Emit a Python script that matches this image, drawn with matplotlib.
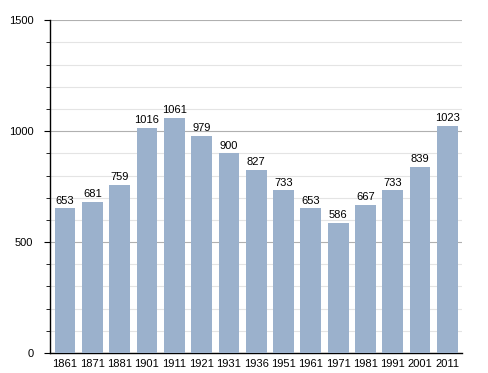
import matplotlib.pyplot as plt
from matplotlib.ticker import MultipleLocator

plt.rcParams['font.family'] = ['Liberation Sans', 'DejaVu Sans']

years = ['1861', '1871', '1881', '1901', '1911', '1921', '1931', '1936',
         '1951', '1961', '1971', '1981', '1991', '2001', '2011']
population = [653, 681, 759, 1016, 1061, 979, 900, 827,
              733, 653, 586, 667, 733, 839, 1023]

fig = plt.figure(figsize=(4.88, 3.73), dpi=100)
ax = fig.add_axes([0.1025, 0.0536, 0.845, 0.892])

x = range(len(years))
ax.bar(x, population, width=0.76, color='#9bb1cc', zorder=3)
for xi, v in zip(x, population):
    ax.text(xi, v + 12, str(v), ha='center', va='bottom', fontsize=8, zorder=4)

ax.set_xlim(-0.55, len(years) - 0.45)
ax.set_ylim(0, 1500)
ax.set_xticks(list(x))
ax.set_xticklabels(years, fontsize=8)
ax.yaxis.set_major_locator(MultipleLocator(500))
ax.yaxis.set_minor_locator(MultipleLocator(100))
ax.tick_params(axis='y', labelsize=8, length=4, direction='out', pad=8)
ax.tick_params(axis='y', which='minor', length=3)
ax.tick_params(axis='x', length=0, pad=4)
ax.grid(axis='y', which='major', color='#b0b0b0', linewidth=0.8, zorder=0)
ax.grid(axis='y', which='minor', color='#e4e4e4', linewidth=0.8, zorder=0)

for s in ['top', 'right']:
    ax.spines[s].set_visible(False)
ax.spines['left'].set_linewidth(1.0)
ax.spines['bottom'].set_linewidth(1.0)

plt.savefig('out.png', dpi=100)
